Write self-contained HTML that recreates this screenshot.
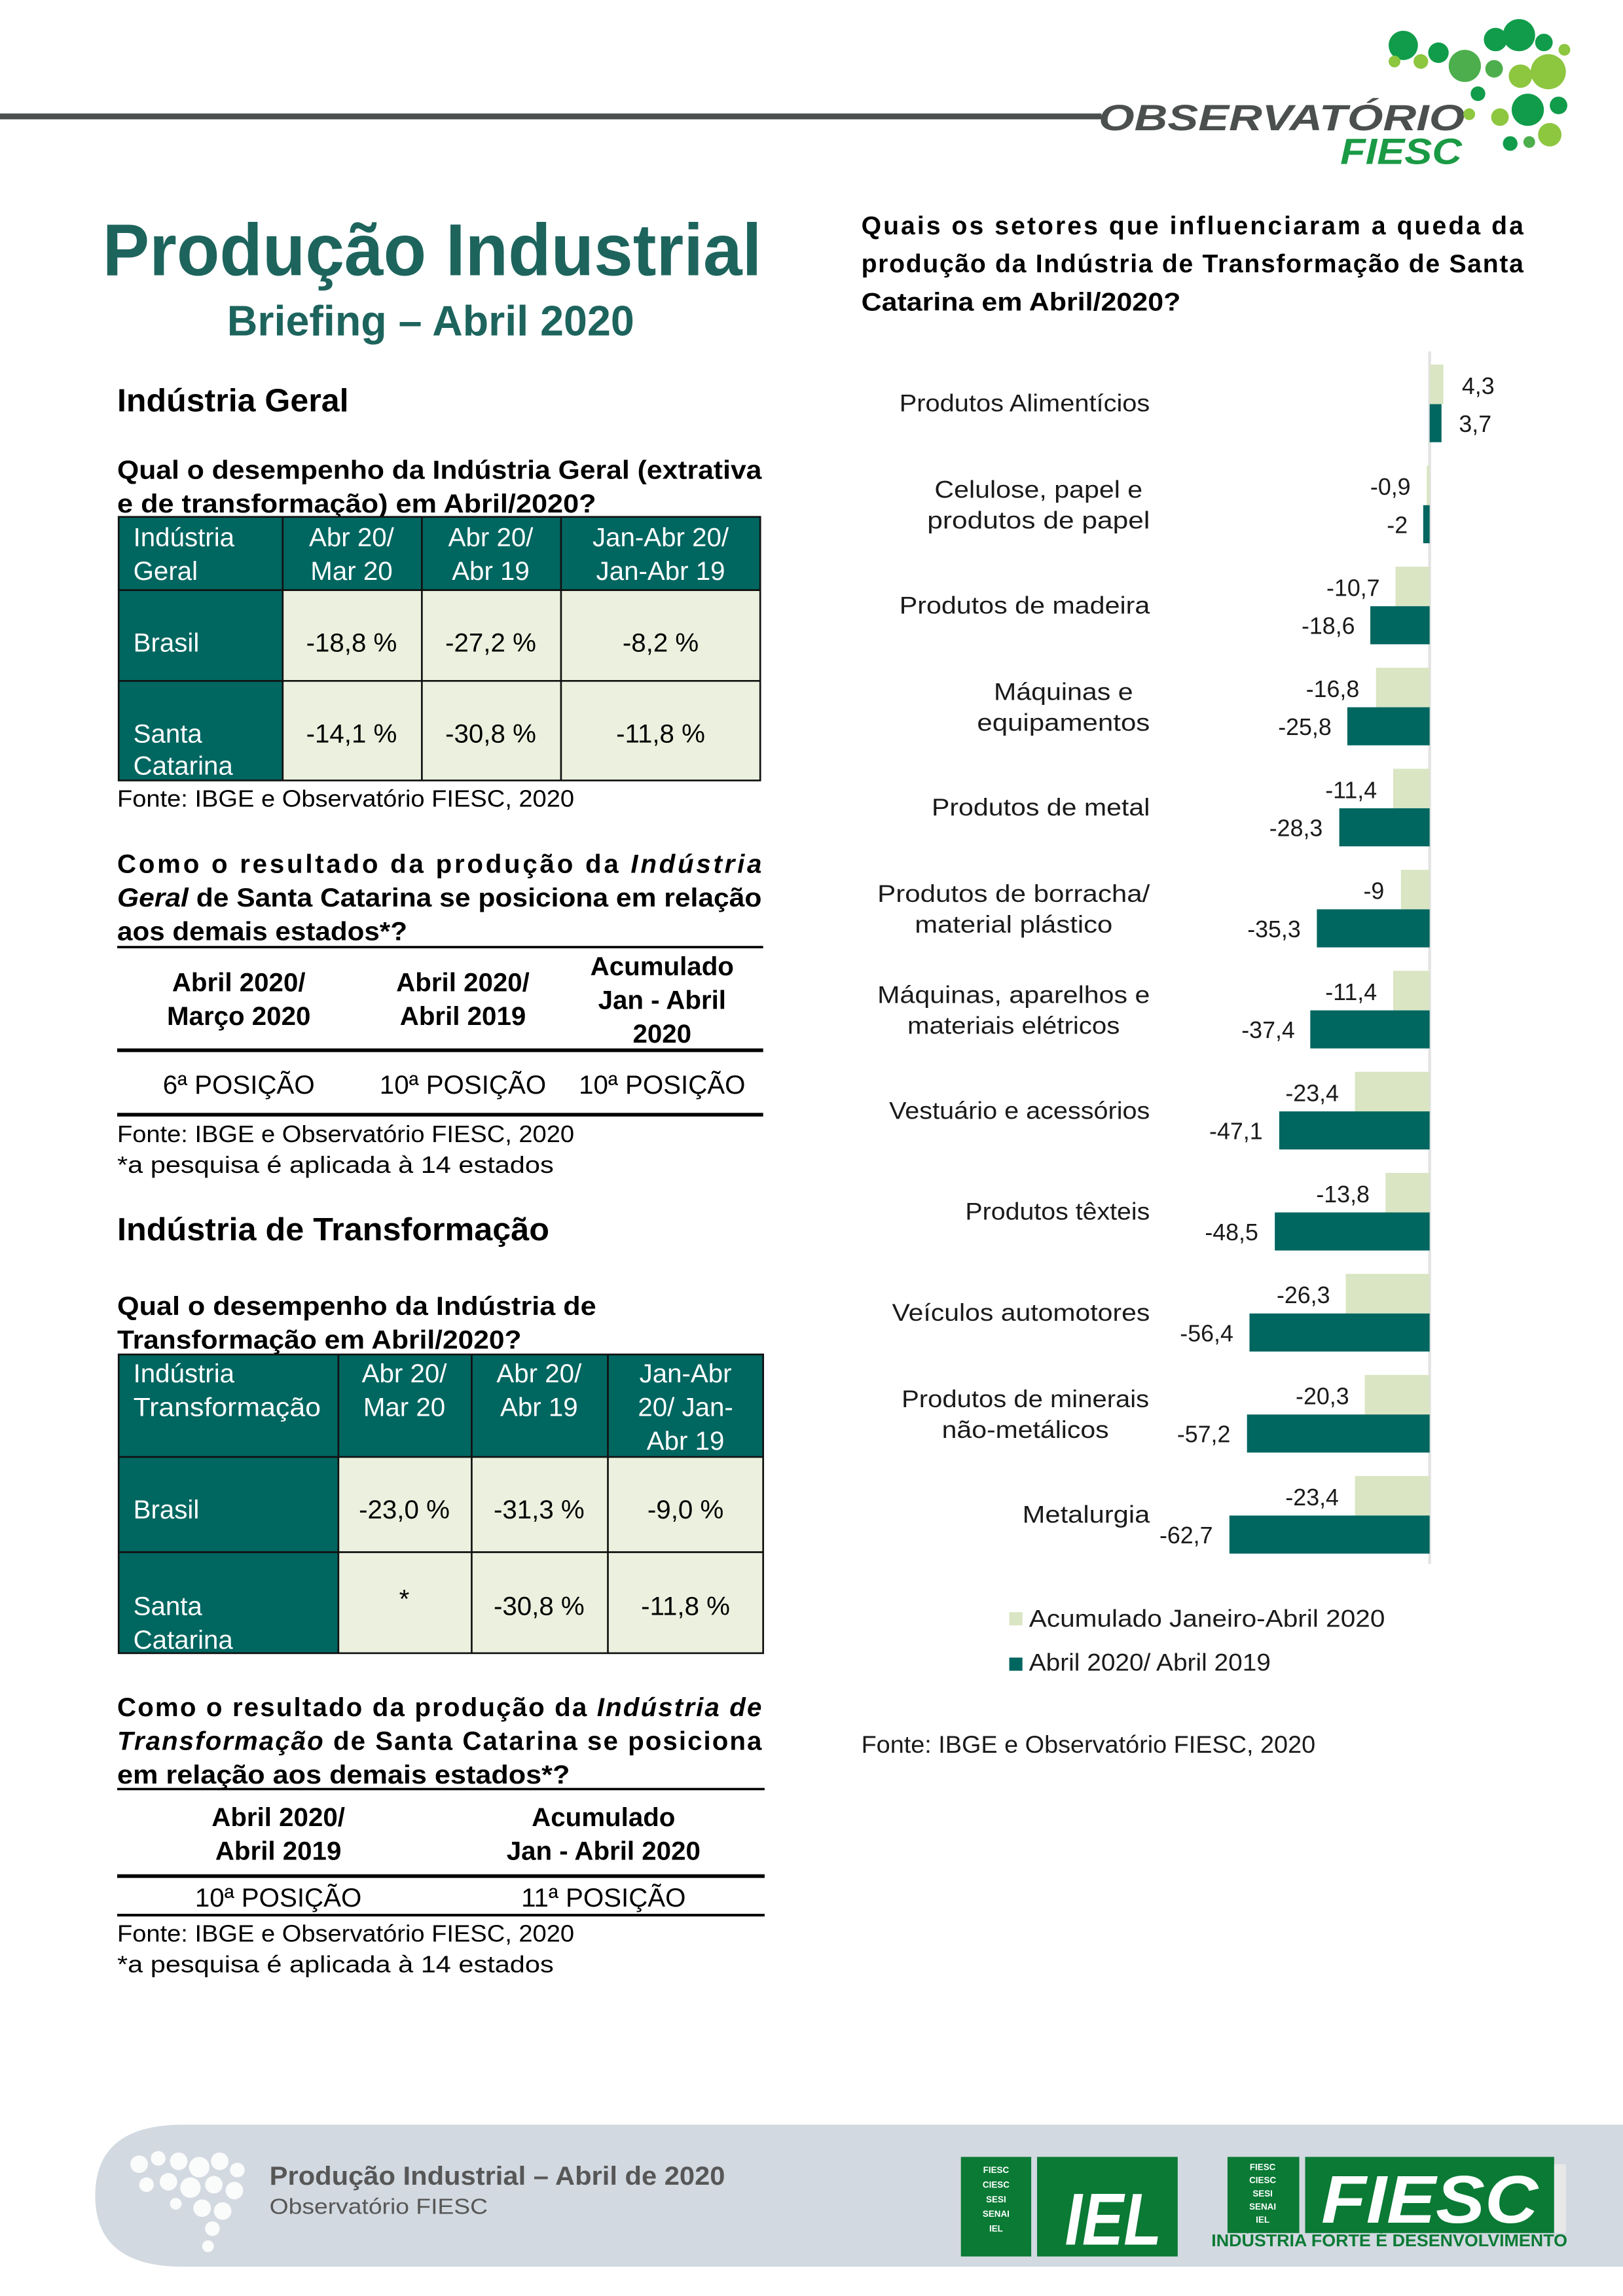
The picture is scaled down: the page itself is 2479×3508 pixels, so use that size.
<!DOCTYPE html>
<html><head><meta charset="utf-8"><style>
html,body{margin:0;padding:0;background:#fff}
svg{display:block}
text{font-family:"Liberation Sans",sans-serif}
.w{fill:#fff;font-size:18px}
.c{font-size:18px;fill:#000}
.b{font-weight:bold}
.lab{font-size:16.5px;fill:#1a1a1a}
.val{font-size:16px;fill:#1a1a1a}
</style></head><body>
<svg width="2479" height="3508" viewBox="0 0 1108 1568" preserveAspectRatio="none" xmlns="http://www.w3.org/2000/svg">
<rect width="1108" height="1568" fill="#fff"/>
<!-- header -->
<rect x="0" y="77.5" width="752" height="4" fill="#4b504e"/>
<text x="750" y="89" font-size="25" font-weight="bold" font-style="italic" fill="#4b504e" textLength="250" lengthAdjust="spacingAndGlyphs">OBSERVATÓRIO</text>
<text x="915" y="112" font-size="25" font-weight="bold" font-style="italic" fill="#1a9a44" textLength="83" lengthAdjust="spacingAndGlyphs">FIESC</text>
<g>
<circle cx="958" cy="31" r="10" fill="#109c4a"/><circle cx="982" cy="36" r="7" fill="#109c4a"/>
<circle cx="1000" cy="45" r="11" fill="#4cae4c"/><circle cx="1021" cy="27" r="8" fill="#109c4a"/>
<circle cx="1037" cy="24" r="11" fill="#109c4a"/><circle cx="1054" cy="29" r="6" fill="#109c4a"/>
<circle cx="1057" cy="49" r="12" fill="#8dc63f"/><circle cx="1038" cy="52" r="8" fill="#8dc63f"/>
<circle cx="1020" cy="47" r="6" fill="#4cae4c"/><circle cx="1043" cy="75" r="11" fill="#109c4a"/>
<circle cx="1024" cy="80" r="6" fill="#8dc63f"/><circle cx="1064" cy="72" r="6" fill="#109c4a"/>
<circle cx="1058" cy="92" r="8" fill="#8dc63f"/><circle cx="1031" cy="98" r="5" fill="#109c4a"/>
<circle cx="970" cy="42" r="5" fill="#8dc63f"/><circle cx="952" cy="42" r="4" fill="#8dc63f"/>
<circle cx="1009" cy="64" r="5" fill="#109c4a"/><circle cx="1003" cy="78" r="4" fill="#8dc63f"/>
<circle cx="1068" cy="34" r="4" fill="#8dc63f"/><circle cx="1044" cy="97" r="4" fill="#4cae4c"/>
</g>
<!-- title -->
<text x="70" y="188" font-size="50" font-weight="bold" fill="#1d645d" textLength="450" lengthAdjust="spacingAndGlyphs">Produção Industrial</text>
<text x="155" y="229" font-size="29" font-weight="bold" fill="#1d645d" textLength="278" lengthAdjust="spacingAndGlyphs">Briefing – Abril 2020</text>
<text x="80" y="281" font-size="22" font-weight="bold" textLength="158" lengthAdjust="spacingAndGlyphs">Indústria Geral</text>
<text x="80" y="327" class="c b" textLength="440" lengthAdjust="spacingAndGlyphs">Qual o desempenho da Indústria Geral (extrativa</text>
<text x="80" y="350" class="c b" textLength="327" lengthAdjust="spacingAndGlyphs">e de transformação) em Abril/2020?</text>
<!-- table 1 -->
<rect x="81" y="353" width="438" height="50" fill="#006660"/>
<rect x="81" y="403" width="112" height="130" fill="#006660"/>
<rect x="193" y="403" width="326" height="130" fill="#ebf1de"/>
<g stroke="#111" stroke-width="1.2" fill="none">
<rect x="81" y="353" width="438" height="180"/>
<line x1="81" y1="403" x2="519" y2="403"/><line x1="81" y1="465" x2="519" y2="465"/>
<line x1="193" y1="353" x2="193" y2="533"/><line x1="288" y1="353" x2="288" y2="533"/><line x1="383" y1="353" x2="383" y2="533"/>
</g>
<text x="91" y="373" class="w">Indústria</text><text x="91" y="396" class="w">Geral</text>
<g class="w" text-anchor="middle">
<text x="240" y="373" class="w">Abr 20/</text><text x="240" y="396" class="w">Mar 20</text>
<text x="335" y="373" class="w">Abr 20/</text><text x="335" y="396" class="w">Abr 19</text>
<text x="451" y="373" class="w">Jan-Abr 20/</text><text x="451" y="396" class="w">Jan-Abr 19</text>
</g>
<text x="91" y="445" class="w">Brasil</text>
<text x="91" y="507" class="w">Santa</text><text x="91" y="529" class="w">Catarina</text>
<g text-anchor="middle">
<text x="240" y="445" class="c">-18,8 %</text><text x="335" y="445" class="c">-27,2 %</text><text x="451" y="445" class="c">-8,2 %</text>
<text x="240" y="507" class="c">-14,1  %</text><text x="335" y="507" class="c">-30,8 %</text><text x="451" y="507" class="c">-11,8 %</text>
</g>
<text x="80" y="551" font-size="16" textLength="312" lengthAdjust="spacingAndGlyphs">Fonte: IBGE e Observatório FIESC, 2020</text>
<!-- ranking 1 -->
<text x="80" y="596" class="c b" textLength="440" lengthAdjust="spacing">Como o resultado da produção da <tspan font-style="italic">Indústria</tspan></text>
<text x="80" y="619" class="c b" textLength="440" lengthAdjust="spacingAndGlyphs"><tspan font-style="italic">Geral</tspan> de Santa Catarina se posiciona em relação</text>
<text x="80" y="642" class="c b" textLength="198" lengthAdjust="spacingAndGlyphs">aos demais estados*?</text>
<rect x="80" y="646" width="441" height="1.6" fill="#000"/>
<g text-anchor="middle" class="c b">
<text x="163" y="677" class="c b">Abril 2020/</text><text x="163" y="700" class="c b">Março 2020</text>
<text x="316" y="677" class="c b">Abril 2020/</text><text x="316" y="700" class="c b">Abril 2019</text>
<text x="452" y="666" class="c b">Acumulado</text><text x="452" y="689" class="c b">Jan - Abril</text><text x="452" y="712" class="c b">2020</text>
</g>
<rect x="80" y="716" width="441" height="2.5" fill="#000"/>
<g text-anchor="middle">
<text x="163" y="747" class="c">6ª  POSIÇÃO</text><text x="316" y="747" class="c">10ª POSIÇÃO</text><text x="452" y="747" class="c">10ª POSIÇÃO</text>
</g>
<rect x="80" y="760" width="441" height="2.5" fill="#000"/>
<text x="80" y="780" font-size="16" textLength="312" lengthAdjust="spacingAndGlyphs">Fonte: IBGE e Observatório FIESC, 2020</text>
<text x="80" y="801" font-size="16" textLength="298" lengthAdjust="spacingAndGlyphs">*a pesquisa é aplicada à 14 estados</text>
<!-- transformação -->
<text x="80" y="847" font-size="22" font-weight="bold" textLength="295" lengthAdjust="spacingAndGlyphs">Indústria de Transformação</text>
<text x="80" y="898" class="c b" textLength="327" lengthAdjust="spacingAndGlyphs">Qual o desempenho da Indústria de</text>
<text x="80" y="921" class="c b" textLength="276" lengthAdjust="spacingAndGlyphs">Transformação em Abril/2020?</text>
<rect x="81" y="925" width="440" height="70" fill="#006660"/>
<rect x="81" y="995" width="150" height="134" fill="#006660"/>
<rect x="231" y="995" width="290" height="134" fill="#ebf1de"/>
<g stroke="#111" stroke-width="1.2" fill="none">
<rect x="81" y="925" width="440" height="204"/>
<line x1="81" y1="995" x2="521" y2="995"/><line x1="81" y1="1060" x2="521" y2="1060"/>
<line x1="231" y1="925" x2="231" y2="1129"/><line x1="322" y1="925" x2="322" y2="1129"/><line x1="415" y1="925" x2="415" y2="1129"/>
</g>
<text x="91" y="944" class="w">Indústria</text><text x="91" y="967" class="w" textLength="128" lengthAdjust="spacingAndGlyphs">Transformação</text>
<g text-anchor="middle">
<text x="276" y="944" class="w">Abr 20/</text><text x="276" y="967" class="w">Mar 20</text>
<text x="368" y="944" class="w">Abr 20/</text><text x="368" y="967" class="w">Abr 19</text>
<text x="468" y="944" class="w">Jan-Abr</text><text x="468" y="967" class="w">20/ Jan-</text><text x="468" y="990" class="w">Abr 19</text>
</g>
<text x="91" y="1037" class="w">Brasil</text>
<text x="91" y="1103" class="w">Santa</text><text x="91" y="1126" class="w">Catarina</text>
<g text-anchor="middle">
<text x="276" y="1037" class="c">-23,0 %</text><text x="368" y="1037" class="c">-31,3 %</text><text x="468" y="1037" class="c">-9,0 %</text>
<text x="276" y="1098" class="c">*</text><text x="368" y="1103" class="c">-30,8 %</text><text x="468" y="1103" class="c">-11,8 %</text>
</g>
<text x="80" y="1172" class="c b" textLength="440" lengthAdjust="spacing">Como o resultado da produção da <tspan font-style="italic">Indústria de</tspan></text>
<text x="80" y="1195" class="c b" textLength="440" lengthAdjust="spacing"><tspan font-style="italic">Transformação</tspan> de Santa Catarina se posiciona</text>
<text x="80" y="1218" class="c b" textLength="309" lengthAdjust="spacingAndGlyphs">em relação aos demais estados*?</text>
<rect x="80" y="1221" width="442" height="1.6" fill="#000"/>
<g text-anchor="middle">
<text x="190" y="1247" class="c b">Abril 2020/</text><text x="190" y="1270" class="c b">Abril 2019</text>
<text x="412" y="1247" class="c b">Acumulado</text><text x="412" y="1270" class="c b">Jan - Abril 2020</text>
</g>
<rect x="80" y="1280" width="442" height="2.5" fill="#000"/>
<g text-anchor="middle">
<text x="190" y="1302" class="c">10ª POSIÇÃO</text><text x="412" y="1302" class="c">11ª POSIÇÃO</text>
</g>
<rect x="80" y="1307" width="442" height="1.8" fill="#000"/>
<text x="80" y="1326" font-size="16" textLength="312" lengthAdjust="spacingAndGlyphs">Fonte: IBGE e Observatório FIESC, 2020</text>
<text x="80" y="1347" font-size="16" textLength="298" lengthAdjust="spacingAndGlyphs">*a pesquisa é aplicada à 14 estados</text>
<!-- right question -->
<text x="588" y="160" font-size="17.5" font-weight="bold" textLength="452" lengthAdjust="spacing">Quais os setores que influenciaram a queda da</text>
<text x="588" y="186" font-size="17.5" font-weight="bold" textLength="452" lengthAdjust="spacing">produção da Indústria de Transformação de Santa</text>
<text x="588" y="212" font-size="17.5" font-weight="bold" textLength="218" lengthAdjust="spacingAndGlyphs">Catarina em Abril/2020?</text>
<!-- chart -->
<rect x="975" y="240" width="2" height="828" fill="#e3e3e3"/>
<g fill="#d9e5c3">
<rect x="976" y="249" width="9.4" height="27"/>
<rect x="974" y="318" width="2" height="27"/>
<rect x="952.7" y="387" width="23.3" height="27"/>
<rect x="939.4" y="456" width="36.6" height="27"/>
<rect x="951.1" y="525" width="24.9" height="27"/>
<rect x="956.4" y="594" width="19.6" height="27"/>
<rect x="951.1" y="663" width="24.9" height="27"/>
<rect x="925" y="732" width="51" height="27"/>
<rect x="945.9" y="801" width="30.1" height="27"/>
<rect x="918.7" y="870" width="57.3" height="27"/>
<rect x="931.7" y="939" width="44.3" height="27"/>
<rect x="925" y="1008" width="51" height="27"/>
</g>
<g fill="#006660">
<rect x="976" y="276" width="8.1" height="26"/>
<rect x="971.6" y="345" width="4.4" height="26"/>
<rect x="935.5" y="414" width="40.5" height="26"/>
<rect x="919.8" y="483" width="56.2" height="26"/>
<rect x="914.3" y="552" width="61.7" height="26"/>
<rect x="899" y="621" width="77" height="26"/>
<rect x="894.5" y="690" width="81.5" height="26"/>
<rect x="873.3" y="759" width="102.7" height="26"/>
<rect x="870.3" y="828" width="105.7" height="26"/>
<rect x="853" y="897" width="123" height="26"/>
<rect x="851.3" y="966" width="124.7" height="26"/>
<rect x="839.3" y="1035" width="136.7" height="26"/>
</g>
<text x="998" y="269" class="val">4,3</text><text x="996" y="295" class="val">3,7</text>
<g text-anchor="end">
<text x="963" y="338" class="val">-0,9</text><text x="961" y="364" class="val">-2</text>
<text x="942" y="407" class="val">-10,7</text><text x="925" y="433" class="val">-18,6</text>
<text x="928" y="476" class="val">-16,8</text><text x="909" y="502" class="val">-25,8</text>
<text x="940" y="545" class="val">-11,4</text><text x="903" y="571" class="val">-28,3</text>
<text x="945" y="614" class="val">-9</text><text x="888" y="640" class="val">-35,3</text>
<text x="940" y="683" class="val">-11,4</text><text x="884" y="709" class="val">-37,4</text>
<text x="914" y="752" class="val">-23,4</text><text x="862" y="778" class="val">-47,1</text>
<text x="935" y="821" class="val">-13,8</text><text x="859" y="847" class="val">-48,5</text>
<text x="908" y="890" class="val">-26,3</text><text x="842" y="916" class="val">-56,4</text>
<text x="921" y="959" class="val">-20,3</text><text x="840" y="985" class="val">-57,2</text>
<text x="914" y="1028" class="val">-23,4</text><text x="828" y="1054" class="val">-62,7</text>
</g>
<g text-anchor="end">
<text x="785" y="281" class="lab" textLength="171" lengthAdjust="spacingAndGlyphs">Produtos Alimentícios</text>
<text x="785" y="419" class="lab" textLength="171" lengthAdjust="spacingAndGlyphs">Produtos de madeira</text>
<text x="785" y="557" class="lab" textLength="149" lengthAdjust="spacingAndGlyphs">Produtos de metal</text>
<text x="785" y="764" class="lab" textLength="178" lengthAdjust="spacingAndGlyphs">Vestuário e acessórios</text>
<text x="785" y="833" class="lab" textLength="126" lengthAdjust="spacingAndGlyphs">Produtos têxteis</text>
<text x="785" y="902" class="lab" textLength="176" lengthAdjust="spacingAndGlyphs">Veículos automotores</text>
<text x="785" y="1040" class="lab" textLength="87" lengthAdjust="spacingAndGlyphs">Metalurgia</text>
</g>
<g text-anchor="middle">
<text x="709" y="340" class="lab" textLength="142" lengthAdjust="spacingAndGlyphs">Celulose, papel e</text>
<text x="709" y="361" class="lab" textLength="152" lengthAdjust="spacingAndGlyphs">produtos de papel</text>
<text x="726" y="478" class="lab" textLength="95" lengthAdjust="spacingAndGlyphs">Máquinas e</text>
<text x="726" y="499" class="lab" textLength="118" lengthAdjust="spacingAndGlyphs">equipamentos</text>
<text x="692" y="616" class="lab" textLength="186" lengthAdjust="spacingAndGlyphs">Produtos de borracha/</text>
<text x="692" y="637" class="lab" textLength="135" lengthAdjust="spacingAndGlyphs">material plástico</text>
<text x="692" y="685" class="lab" textLength="186" lengthAdjust="spacingAndGlyphs">Máquinas, aparelhos e</text>
<text x="692" y="706" class="lab" textLength="145" lengthAdjust="spacingAndGlyphs">materiais elétricos</text>
<text x="700" y="961" class="lab" textLength="169" lengthAdjust="spacingAndGlyphs">Produtos de minerais</text>
<text x="700" y="982" class="lab" textLength="114" lengthAdjust="spacingAndGlyphs">não-metálicos</text>
</g>
<rect x="689" y="1101" width="9" height="9" fill="#d9e5c3"/>
<text x="702.5" y="1111" font-size="16.5" fill="#1a1a1a" textLength="243" lengthAdjust="spacingAndGlyphs">Acumulado Janeiro-Abril 2020</text>
<rect x="689" y="1132" width="9" height="9" fill="#006660"/>
<text x="702.5" y="1141" font-size="16.5" fill="#1a1a1a" textLength="165" lengthAdjust="spacingAndGlyphs">Abril 2020/ Abril 2019</text>
<text x="588" y="1197" font-size="16.5" fill="#1a1a1a" textLength="310" lengthAdjust="spacingAndGlyphs">Fonte: IBGE e Observatório FIESC, 2020</text>
<!-- footer -->
<path d="M125 1451 H1108 V1548 H125 Q65 1548 65 1499.5 Q65 1451 125 1451 Z" fill="#d2d9e0"/>
<g fill="#fff" opacity="0.9">
<circle cx="95" cy="1478" r="6"/><circle cx="108" cy="1474" r="5"/><circle cx="122" cy="1476" r="6"/><circle cx="136" cy="1480" r="7"/><circle cx="150" cy="1476" r="6"/><circle cx="162" cy="1482" r="5"/>
<circle cx="100" cy="1492" r="5"/><circle cx="115" cy="1490" r="6"/><circle cx="130" cy="1494" r="7"/><circle cx="146" cy="1492" r="6"/><circle cx="160" cy="1496" r="6"/>
<circle cx="120" cy="1505" r="4"/><circle cx="138" cy="1508" r="6"/><circle cx="152" cy="1510" r="6"/><circle cx="145" cy="1522" r="5"/><circle cx="142" cy="1534" r="4"/>
</g>
<text x="184" y="1492" font-size="18" font-weight="bold" fill="#575757" textLength="311" lengthAdjust="spacingAndGlyphs">Produção Industrial – Abril de 2020</text>
<text x="184" y="1512" font-size="15" fill="#575757" textLength="149" lengthAdjust="spacingAndGlyphs">Observatório FIESC</text>
<rect x="656" y="1473" width="48" height="68" fill="#0a7a35"/>
<rect x="708" y="1473" width="96" height="68" fill="#0a7a35"/>
<text x="727" y="1533" font-size="50" font-weight="bold" font-style="italic" fill="#fff" textLength="66" lengthAdjust="spacingAndGlyphs">IEL</text>
<rect x="838" y="1473" width="49" height="52" fill="#0a7a35"/>
<rect x="891" y="1473" width="170" height="52" fill="#0a7a35"/>
<rect x="1061" y="1478" width="8" height="47" fill="#e8e8e8"/>
<g fill="#fff" font-size="6" font-weight="bold" text-anchor="middle">
<text x="680" y="1484">FIESC</text><text x="680" y="1494">CIESC</text><text x="680" y="1504">SESI</text><text x="680" y="1514">SENAI</text><text x="680" y="1524">IEL</text>
<text x="862" y="1482">FIESC</text><text x="862" y="1491">CIESC</text><text x="862" y="1500">SESI</text><text x="862" y="1509">SENAI</text><text x="862" y="1518">IEL</text>
</g>
<text x="902" y="1518" font-size="46" font-weight="bold" font-style="italic" fill="#fff" textLength="148" lengthAdjust="spacingAndGlyphs">FIESC</text>
<text x="827" y="1534" font-size="11.5" font-weight="bold" fill="#0a7a35" textLength="243" lengthAdjust="spacingAndGlyphs">INDÚSTRIA FORTE É DESENVOLVIMENTO</text>
</svg>
</body></html>
